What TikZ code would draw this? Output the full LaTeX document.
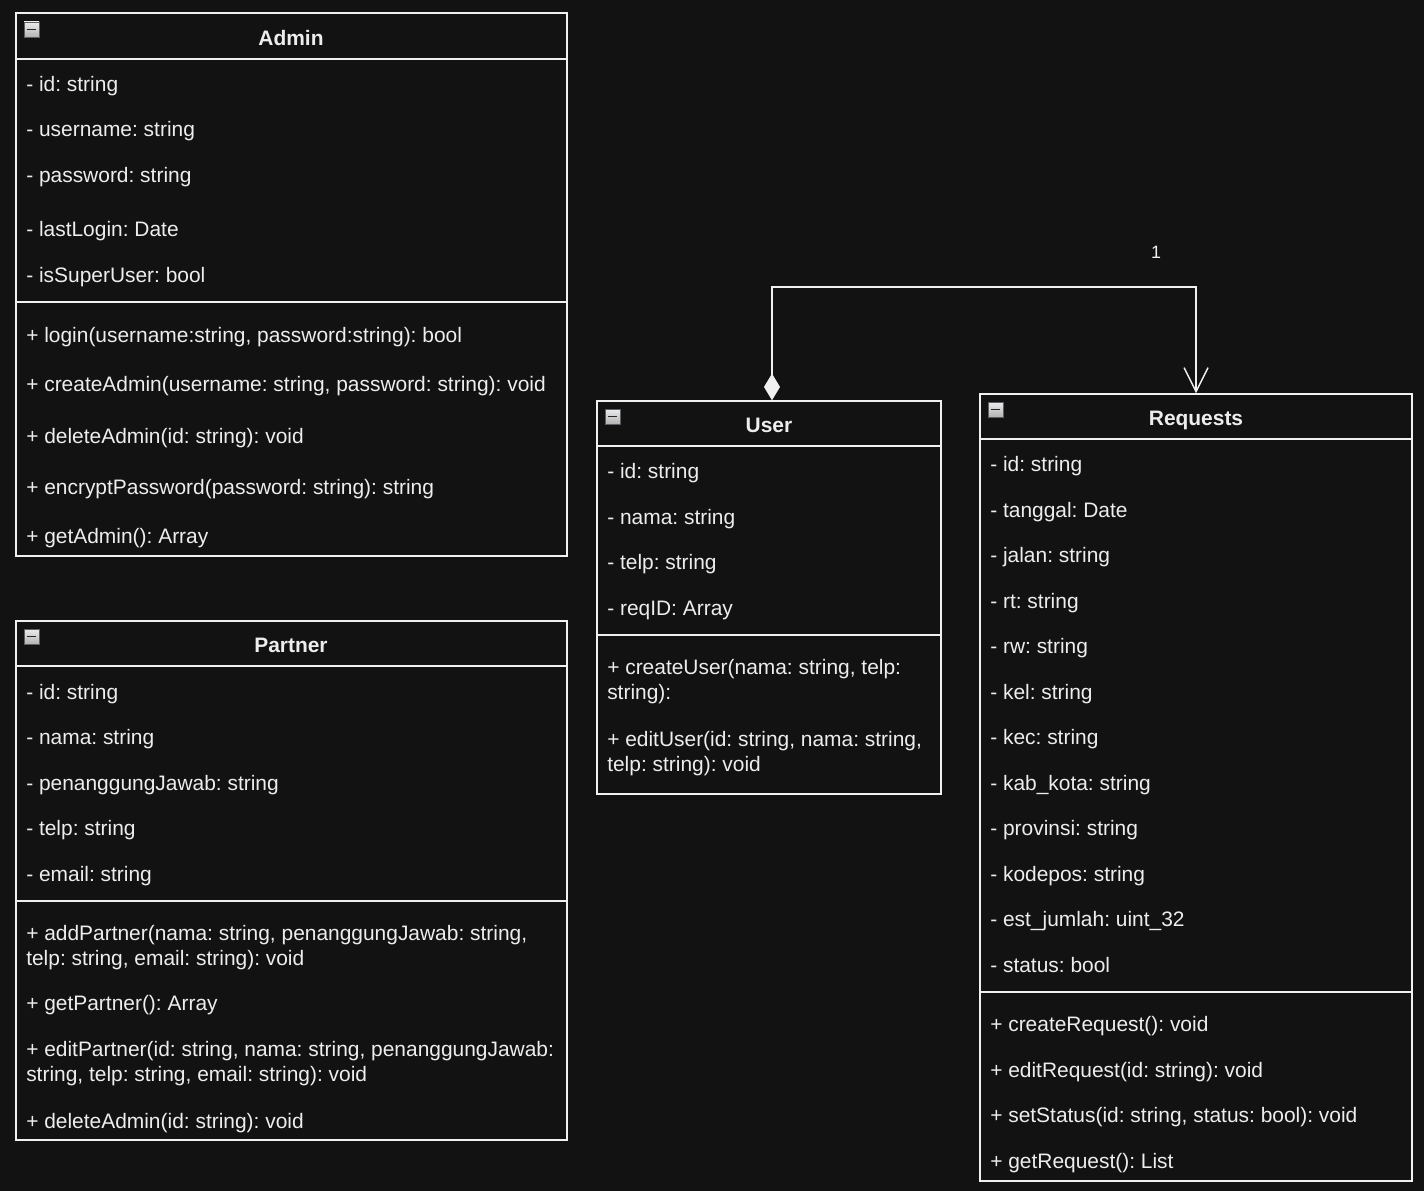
\documentclass[tikz,border=0pt]{standalone}
\usepackage{fontspec}
\setmainfont{Liberation Sans}
\usetikzlibrary{arrows.meta,fit}

\definecolor{fond}{HTML}{121212}
\definecolor{trait}{HTML}{F0F0F0}
\definecolor{texte}{HTML}{EDEDED}
\definecolor{icone}{HTML}{5A5F66}

\tikzset{
	classe/.style={draw=trait,line width=1.1pt,inner sep=0pt},
	separation/.style={draw=trait,line width=1.1pt},
	membre/.style={anchor=base west,inner sep=0pt,text=texte,align=left,font=\frenchspacing\fontsize{15.7}{18.75}\selectfont},
	titre/.style={anchor=base,inner sep=0pt,text=texte,font=\bfseries\fontsize{15.7}{18.75}\selectfont},
	etiquette/.style={inner sep=0pt,text=texte!80,font=\fontsize{13.4}{16}\selectfont},
	composition/.style={draw=trait,line width=1.1pt,{Diamond[length=20pt,width=12pt,fill=trait]}-{Straight Barb[length=18pt,width=18pt]}}
}

% Petit bouton de pliage
\newcommand{\boutonPlier}[2]{%
	\fill[top color=gray!15,bottom color=gray!60,draw=icone,line width=0.6pt] (#1,#2) rectangle ++(15,15);
	\draw[black!85,line width=1.4pt] (#1+3,#2+7.5) -- ++(9,0);
}

\begin{document}
\begin{tikzpicture}[x=0.75pt,y=-0.75pt]
	%
	% Fond
	\fill[fond] (0,0) rectangle (1424,1191);
	\useasboundingbox (0,0) rectangle (1424,1191);
	%
	% Classe Admin
	\node[classe,fit={(16,13) (567,556)}] (admin) {};
	\draw[separation] (admin.west |- 0,59) -- (admin.east |- 0,59);
	\draw[separation] (admin.west |- 0,302) -- (admin.east |- 0,302);
	\boutonPlier{24}{22}
	\node[titre] (admin-titre) at (291,45.5) {Admin};
	\foreach \y/\t [count=\i] in {92/{- id: string},137/{- username: string},183/{- password: string},237/{- lastLogin: Date},282/{- isSuperUser: bool}}
		\node[membre] (admin-a\i) at (26,\y) {\t};
	\foreach \y/\t [count=\i] in {342/{+ login(username:string, password:string): bool},391/{+ createAdmin(username: string, password: string): void},443/{+ deleteAdmin(id: string): void},494/{+ encryptPassword(password: string): string},543/{+ getAdmin(): Array}}
		\node[membre] (admin-m\i) at (26,\y) {\t};
	%
	% Classe Partner
	\node[classe,fit={(16,621) (567,1140)}] (partner) {};
	\draw[separation] (partner.west |- 0,666) -- (partner.east |- 0,666);
	\draw[separation] (partner.west |- 0,901) -- (partner.east |- 0,901);
	\boutonPlier{24}{629}
	\node[titre] (partner-titre) at (291,652.5) {Partner};
	\foreach \y/\t [count=\i] in {699/{- id: string},744/{- nama: string},790/{- penanggungJawab: string},835/{- telp: string},881/{- email: string}}
		\node[membre] (partner-a\i) at (26,\y) {\t};
	\foreach \y/\t [count=\i] in {965/{+ addPartner(nama: string, penanggungJawab: string,\\telp: string, email: string): void},1010/{+ getPartner(): Array},1081/{+ editPartner(id: string, nama: string, penanggungJawab:\\string, telp: string, email: string): void},1128/{+ deleteAdmin(id: string): void}}
		\node[membre] (partner-m\i) at (26,\y) {\t};
	%
	% Classe User
	\node[classe,fit={(597,401) (941,794)}] (user) {};
	\draw[separation] (user.west |- 0,446) -- (user.east |- 0,446);
	\draw[separation] (user.west |- 0,635) -- (user.east |- 0,635);
	\boutonPlier{605}{409}
	\node[titre] (user-titre) at (769,432.5) {User};
	\foreach \y/\t [count=\i] in {478/{- id: string},524/{- nama: string},569/{- telp: string},615/{- reqID: Array}}
		\node[membre] (user-a\i) at (607,\y) {\t};
	\foreach \y/\t [count=\i] in {699/{+ createUser(nama: string, telp:\\string):},771/{+ editUser(id: string, nama: string,\\telp: string): void}}
		\node[membre] (user-m\i) at (607,\y) {\t};
	%
	% Classe Requests
	\node[classe,fit={(980,394) (1412,1181)}] (requests) {};
	\draw[separation] (requests.west |- 0,439) -- (requests.east |- 0,439);
	\draw[separation] (requests.west |- 0,992) -- (requests.east |- 0,992);
	\boutonPlier{988}{402}
	\node[titre] (requests-titre) at (1196,425.5) {Requests};
	\foreach \y/\t [count=\i] in {471/{- id: string},517/{- tanggal: Date},562/{- jalan: string},608/{- rt: string},653/{- rw: string},699/{- kel: string},744/{- kec: string},790/{- kab\_kota: string},835/{- provinsi: string},881/{- kodepos: string},926/{- est\_jumlah: uint\_32},972/{- status: bool}}
		\node[membre] (requests-a\i) at (990,\y) {\t};
	\foreach \y/\t [count=\i] in {1031/{+ createRequest(): void},1077/{+ editRequest(id: string): void},1122/{+ setStatus(id: string, status: bool): void},1168/{+ getRequest(): List}}
		\node[membre] (requests-m\i) at (990,\y) {\t};
	%
	% Composition User -> Requests
	\coordinate (coude) at (0,287);
	\draw[composition] ([xshift=2.25pt]user.north) -- ([xshift=2.25pt]user.north |- coude) -- (requests.north |- coude) -- (requests.north);
	\node[etiquette] (mult) at (1156,252) {1};
\end{tikzpicture}
\end{document}
